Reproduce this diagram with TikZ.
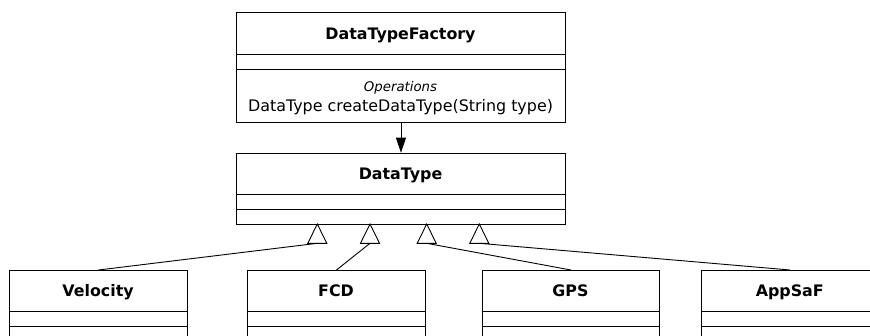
\documentclass[tikz,border=0pt]{standalone}
\usepackage{fontspec}
\setmainfont{DejaVu Sans}
\usetikzlibrary{arrows.meta,calc}
\begin{document}
\begin{tikzpicture}[x=1pt,y=-1pt,
  umlbox/.style={draw=black, line width=0.9pt, fill=white, inner sep=0pt, anchor=north west},
  title/.style={font=\fontsize{15.85}{18}\selectfont\bfseries, inner sep=0pt, anchor=base},
  stereo/.style={font=\fontsize{13.3}{15}\selectfont\itshape, inner sep=0pt, anchor=base},
  member/.style={font=\fontsize{15.9}{18}\selectfont, inner sep=0pt, anchor=base},
  divider/.style={draw=black, line width=0.9pt},
  link/.style={draw=black, line width=0.9pt},
  gen/.style={draw=black, line width=0.9pt, fill=white, line join=miter}]
\useasboundingbox (0,0) rectangle (870,335);
\clip (0,0) rectangle (870,335);

% factory class
\node[umlbox, minimum width=329pt, minimum height=110pt] (fac) at (236,12) {};
\node[title] (facname) at (400.5,39.3) {DataTypeFactory};
\draw[divider] (236,54.3) -- (565,54.3);
\draw[divider] (236,69.3) -- (565,69.3);
\node[stereo] (ops) at (400.5,91.7) {Operations};
\node[member] (meth) at (400.5,111.3) {DataType createDataType(String type)};

% product base class
\node[umlbox, minimum width=329pt, minimum height=71.3pt] (dt) at (236,152.7) {};
\node[title] (dtname) at (400.5,179.3) {DataType};
\draw[divider] (236,194) -- (565,194);
\draw[divider] (236,209.3) -- (565,209.3);

% dependency arrow
\draw[link, -{Triangle[width=10pt,length=15pt]}] (fac.south) -- (dt.north);

% concrete classes
\foreach \nm/\lbl/\xl in {vel/Velocity/9.3, fcd/FCD/247.3, gps/GPS/481.7, app/AppSaF/701}{
  \node[umlbox, minimum width=177.5pt, minimum height=100pt] (\nm) at (\xl,270) {};
  \node[title] (\nm name) at ($(\xl,296.3)+(88.75,0)$) {\lbl};
  \draw[divider] (\xl,311.7) -- ++(177.5,0);
  \draw[divider] (\xl,326.7) -- ++(177.5,0);
}

% generalization triangles
\coordinate (a1) at (317.3,224);
\coordinate (a2) at (370,224);
\coordinate (a3) at (426.7,224);
\coordinate (a4) at (479.3,224);
\foreach \a in {a1,a2,a3,a4}{
  \coordinate (\a b) at ($(\a)+(0,19.3)$);
  \draw[gen] (\a) -- ($(\a)+(-9.5,19.3)$) -- ($(\a)+(9.5,19.3)$) -- cycle;
}
\draw[link] (vel.north) -- (a1b);
\draw[link] (fcd.north) -- (a2b);
\draw[link] (gps.north) -- (a3b);
\draw[link] (app.north) -- (a4b);
\end{tikzpicture}
\end{document}
